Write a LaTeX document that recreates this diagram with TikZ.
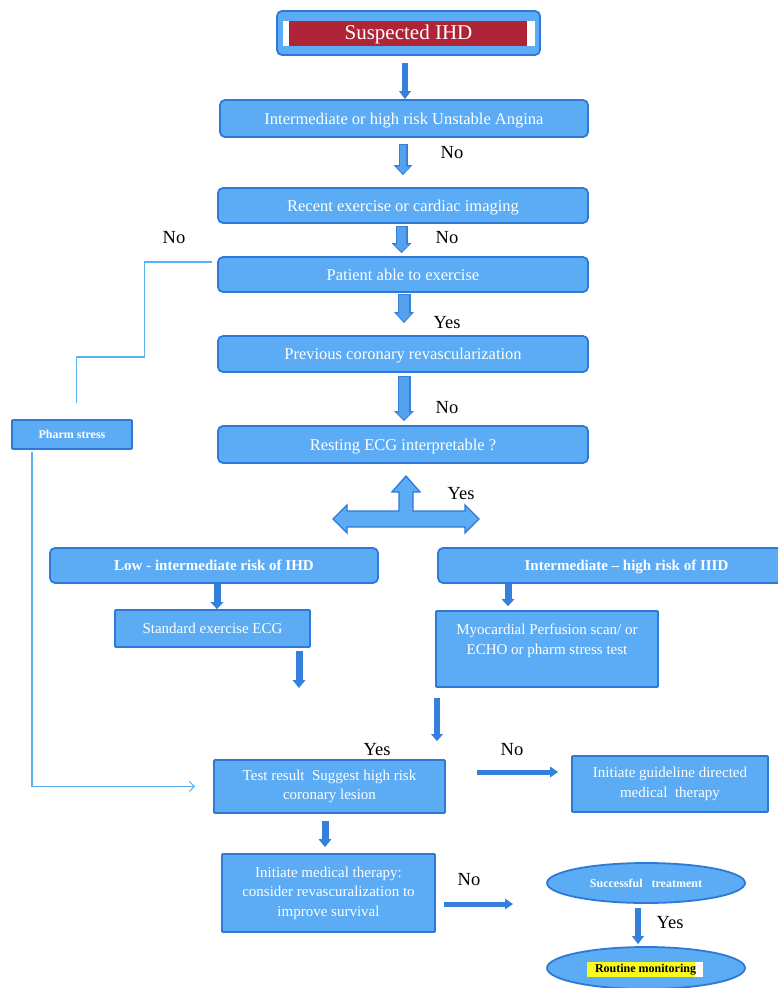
\documentclass[tikz,border=0pt]{standalone}
\usepackage{fontspec}
\setmainfont{Liberation Serif}
\usetikzlibrary{arrows.meta,shapes.geometric,calc}
\definecolor{boxfill}{RGB}{91,172,244}
\definecolor{boxline}{RGB}{47,121,214}
\definecolor{arrowblue}{RGB}{52,128,218}
\definecolor{arrowin}{RGB}{84,162,238}
\definecolor{ihdred}{RGB}{176,36,56}
\definecolor{linkblue}{RGB}{92,178,240}
\definecolor{hlyellow}{RGB}{250,250,30}
\begin{document}
\begin{tikzpicture}[x=1pt,y=-1pt,
  box/.style={draw=boxline, fill=boxfill, line width=1.8pt, text=white, inner sep=0pt, align=center},
  rbox/.style={box, rounded corners=5pt},
  sbox/.style={box, rounded corners=1pt},
  ebox/.style={box, ellipse},
  mainf/.style={font=\fontsize{16.5}{19}\selectfont, text depth=0pt},
  bodyf/.style={font=\fontsize{15}{19.5}\selectfont},
  boldf/.style={font=\fontsize{15}{18}\selectfont\bfseries, text depth=0pt},
  smallb/.style={font=\fontsize{12}{13}\selectfont\bfseries},
  lbl/.style={font=\fontsize{18.5}{20}\selectfont, text=black, inner sep=0pt},
  fat/.style n args={3}{draw=arrowblue, line width=#1, -{Triangle[length=#3, width=#2, line width=0pt]}},
  fatin/.style n args={3}{draw=arrowin, line width=#1, shorten >=1.6pt, shorten <=1.5pt, -{Triangle[length=#3, width=#2, line width=0pt]}},
  link/.style={draw=linkblue, line width=1.1pt}
]
\useasboundingbox (0,0) rectangle (777,988);

% top box
\node[rbox, minimum width=263pt, minimum height=44pt] (sus) at (408.5,33) {};
\fill[white] (283,21) rectangle (535,46);
\fill[ihdred] (289,21) rectangle (527,46);
\node[text=white, inner sep=0pt, font=\fontsize{21}{24}\selectfont] (sustxt) at (408.5,34) {Suspected IHD};

\node[rbox, mainf, minimum width=368pt, minimum height=37pt] (ua) at (404,118.5) {Intermediate or high risk Unstable Angina};
\node[rbox, mainf, minimum width=370pt, minimum height=35pt] (rec) at (403,205.5) {Recent exercise or cardiac imaging};
\node[rbox, mainf, minimum width=370pt, minimum height=35pt] (pat) at (403,274.5) {Patient able to exercise};
\node[rbox, mainf, minimum width=370pt, minimum height=36pt] (prev) at (403,354) {Previous coronary revascularization};
\node[rbox, mainf, minimum width=370pt, minimum height=37pt] (rest) at (403,444.5) {Resting ECG interpretable ?};

\node[rbox, boldf, minimum width=328pt, minimum height=35pt] (low) at (214,565.5) {Low - intermediate risk of IHD};
\node[rbox, boldf, minimum width=377pt, minimum height=35pt] (high) at (626.5,565.5) {Intermediate -- high risk of IIID};

\node[sbox, bodyf, minimum width=195pt, minimum height=37pt] (std) at (212.5,628.5) {Standard exercise ECG};
\node[sbox, minimum width=222pt, minimum height=76pt] (myo) at (547,649) {};
\node[bodyf, text=white, align=center, inner sep=0pt] (myotxt) at (547,641) {Myocardial Perfusion scan/ or\\ECHO or pharm stress test};

\node[sbox, bodyf, minimum width=231pt, minimum height=53pt] (test) at (329.5,786.5) {Test result\ \ Suggest high risk\\coronary lesion};
\node[sbox, bodyf, minimum width=196pt, minimum height=56pt] (guide) at (670,784) {Initiate guideline directed\\medical\ \ therapy};
\node[sbox, bodyf, minimum width=213pt, minimum height=78pt] (init) at (328.5,893) {Initiate medical therapy:\\consider revascuralization to\\improve survival};

\node[sbox, smallb, minimum width=120pt, minimum height=29pt] (pharm) at (72,434.5) {Pharm stress};

\node[ebox, smallb, minimum width=198pt, minimum height=40pt] (succ) at (646,883) {Successful\ \ \ treatment};
\node[ebox, minimum width=198pt, minimum height=42pt] (rout) at (646,968) {};
\fill[white] (587,962) rectangle (703,977);
\fill[hlyellow] (587,962) rectangle (695,977);
\node[font=\fontsize{12}{14}\selectfont\bfseries, text=black, inner sep=0pt] (routtxt) at (645.5,969.5) {Routine monitoring};

% T-shaped arrow
\coordinate (tee) at (406,519);
\filldraw[fill=boxfill, draw=boxline, line width=1.3pt]
  (406,476) -- (420,492) -- (413,492) -- (413,511) -- (465,511) -- (465,505) -- (479,519)
  -- (465,533) -- (465,527) -- (347,527) -- (347,533) -- (333,519) -- (347,505)
  -- (347,511) -- (399,511) -- (399,492) -- (392,492) -- cycle;

% arrows
\draw[fat={6pt}{12pt}{8pt}] ($(sus.south)+(-3.5,7)$) -- ($(sus.south |- ua.north)+(-3.5,0)$);

\draw[fat={9pt}{19pt}{10pt}] ($(ua.south)+(-1,6)$) -- ($(ua.south |- rec.north)+(-1,-12)$);
\draw[fatin={5.5pt}{14pt}{7pt}] ($(ua.south)+(-1,6)$) -- ($(ua.south |- rec.north)+(-1,-12)$);

\draw[fat={12pt}{20pt}{10pt}] ($(rec.south)+(-1.5,2)$) -- ($(rec.south |- pat.north)+(-1.5,-3)$);
\draw[fatin={8.5pt}{15pt}{7pt}] ($(rec.south)+(-1.5,2)$) -- ($(rec.south |- pat.north)+(-1.5,-3)$);

\draw[fat={13pt}{20pt}{11pt}] ($(pat.south)+(1,1)$) -- ($(pat.south |- prev.north)+(1,-12)$);
\draw[fatin={9.5pt}{15pt}{8pt}] ($(pat.south)+(1,1)$) -- ($(pat.south |- prev.north)+(1,-12)$);

\draw[fat={13pt}{20pt}{10pt}] ($(prev.south)+(1,3)$) -- ($(prev.south |- rest.north)+(1,-4)$);
\draw[fatin={9.5pt}{15pt}{7pt}] ($(prev.south)+(1,3)$) -- ($(prev.south |- rest.north)+(1,-4)$);

\draw[fat={7pt}{13pt}{7pt}] ($(low.south)+(3,0)$) -- ($(low.south |- std.north)+(3,0)$);
\coordinate (stdend) at (299,688);
\draw[fat={7pt}{13pt}{8pt}] ($(std.south)+(86.5,3)$) -- (stdend);
\draw[fat={7pt}{13pt}{7pt}] ($(high.south)+(-118.5,0)$) -- ($(high.south |- myo.north)+(-118.5,-4)$);
\draw[fat={6pt}{12pt}{7pt}] ($(myo.south)+(-110,10)$) -- ($(myo.south |- test.north)+(-110,-18)$);
\draw[fat={5pt}{11pt}{8pt}] ($(test.east)+(31,-14.5)$) -- ($(test.east -| guide.west)+(-13,-14.5)$);
\draw[fat={7pt}{13pt}{8pt}] ($(test.south)+(-4.5,7)$) -- ($(test.south |- init.north)+(-4.5,-6)$);
\coordinate (initend) at (513,904);
\draw[fat={5pt}{11pt}{8pt}] ($(init.east)+(8,11)$) -- (initend);
\draw[fat={6pt}{12pt}{8pt}] ($(succ.south)+(-8,4)$) -- ($(succ.south |- rout.north)+(-8,-2)$);

% thin connectors
\draw[link] ($(pat.west)+(-5,-12.5)$) -- ++(-68,0) -- ++(0,95) -- ++(-68,0) -- ++(0,46);
\draw[link, -{Straight Barb[length=5pt,width=10pt]}] ($(pharm.south)+(-40,2)$) |- ($(test.west)+(-18,0)$);

% labels
\node[lbl] (no1) at (452,153) {No};
\node[lbl] (no2) at (447,238) {No};
\node[lbl] (noL) at (174,238) {No};
\node[lbl] (yes3) at (447,323) {Yes};
\node[lbl] (no4) at (447,408) {No};
\node[lbl] (yesT) at (461,494) {Yes};
\node[lbl] (yesTest) at (377,750) {Yes};
\node[lbl] (noG) at (512,750) {No};
\node[lbl] (noI) at (469,880) {No};
\node[lbl] (yesS) at (670,923) {Yes};
\end{tikzpicture}
\end{document}
